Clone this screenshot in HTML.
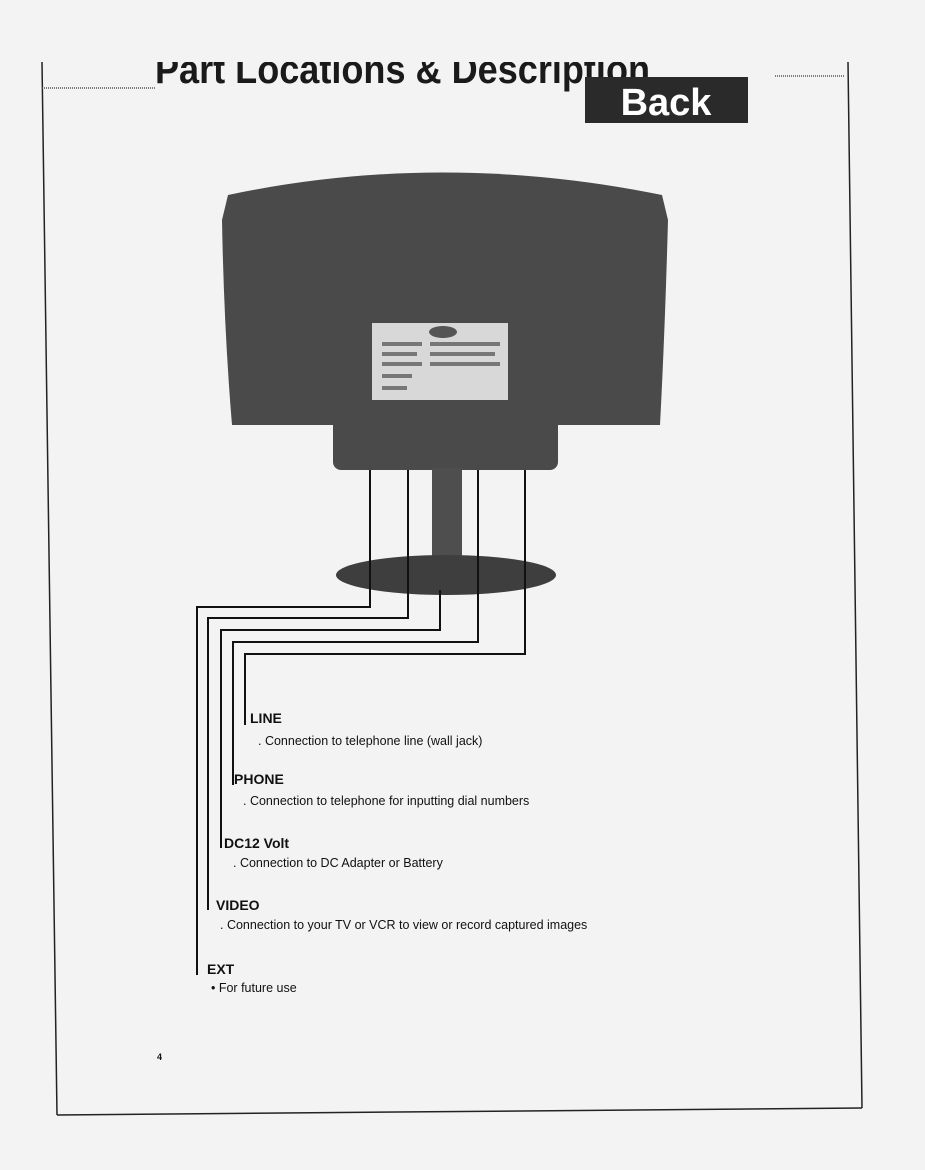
<!DOCTYPE html>
<html><head><meta charset="utf-8"><style>
html,body{margin:0;padding:0;background:#f4f4f4;}
svg{display:block;}
text{font-family:"Liberation Sans",sans-serif;}
</style></head><body>
<svg width="925" height="1170" viewBox="0 0 925 1170" xmlns="http://www.w3.org/2000/svg">
<rect width="925" height="1170" fill="#f3f3f3"/>
<g stroke="#222" stroke-width="1.5" fill="none">
<line x1="42" y1="62" x2="57" y2="1115"/>
<line x1="848" y1="62" x2="862" y2="1108"/>
<line x1="57" y1="1115" x2="862" y2="1108"/>
</g>
<line x1="42" y1="88" x2="155" y2="88" stroke="#555" stroke-width="1.5" stroke-dasharray="1,1"/>
<line x1="775" y1="76" x2="845" y2="76" stroke="#555" stroke-width="1.5" stroke-dasharray="1,1"/>
<text x="155" y="83" font-size="40" font-weight="bold" fill="#1a1a1a" textLength="495" lengthAdjust="spacingAndGlyphs">Part Locations &amp; Description</text>
<rect x="100" y="30" width="600" height="32" fill="#f3f3f3"/>
<rect x="585" y="77" width="163" height="46" fill="#2a2a2a"/>
<text x="666" y="115" font-size="38" font-weight="bold" fill="#fff" text-anchor="middle">Back</text>
<path d="M228 195 Q440 150 662 195 L668 220 Q665 330 660 425 L232 425 Q224 330 222 220 Z" fill="#4a4a4a"/>
<rect x="333" y="415" width="225" height="55" rx="8" fill="#4a4a4a"/>
<rect x="372" y="323" width="136" height="77" fill="#d8d8d8"/>
<ellipse cx="443" cy="332" rx="14" ry="6" fill="#555"/>
<g fill="#777"><rect x="382" y="342" width="40" height="4"/><rect x="430" y="342" width="70" height="4"/><rect x="382" y="352" width="35" height="4"/><rect x="430" y="352" width="65" height="4"/><rect x="382" y="362" width="40" height="4"/><rect x="430" y="362" width="70" height="4"/><rect x="382" y="374" width="30" height="4"/><rect x="382" y="386" width="25" height="4"/></g>
<rect x="432" y="468" width="30" height="90" fill="#4e4e4e"/>
<ellipse cx="446" cy="575" rx="110" ry="20" fill="#3e3e3e"/>
<g stroke="#111" stroke-width="2" fill="none">
<polyline points="370,470 370,607 197,607 197,975"/>
<polyline points="408,470 408,618 208,618 208,910"/>
<polyline points="440,590 440,630 221,630 221,848"/>
<polyline points="478,470 478,642 233,642 233,785"/>
<polyline points="525,470 525,654 245,654 245,725"/>
</g>
<g fill="#111">
<text x="250" y="723" font-size="14" font-weight="bold">LINE</text>
<text x="258" y="745" font-size="12.5">. Connection to telephone line (wall jack)</text>
<text x="234" y="784" font-size="14" font-weight="bold">PHONE</text>
<text x="243" y="805" font-size="12.5">. Connection to telephone for inputting dial numbers</text>
<text x="224" y="848" font-size="14" font-weight="bold">DC12 Volt</text>
<text x="233" y="867" font-size="12.5">. Connection to DC Adapter or Battery</text>
<text x="216" y="910" font-size="14" font-weight="bold">VIDEO</text>
<text x="220" y="929" font-size="12.5">. Connection to your TV or VCR to view or record captured images</text>
<text x="207" y="974" font-size="14" font-weight="bold">EXT</text>
<text x="211" y="992" font-size="12.5">• For future use</text>
<text x="157" y="1060" font-size="9" font-weight="bold">4</text>
</g>
</svg>
</body></html>
